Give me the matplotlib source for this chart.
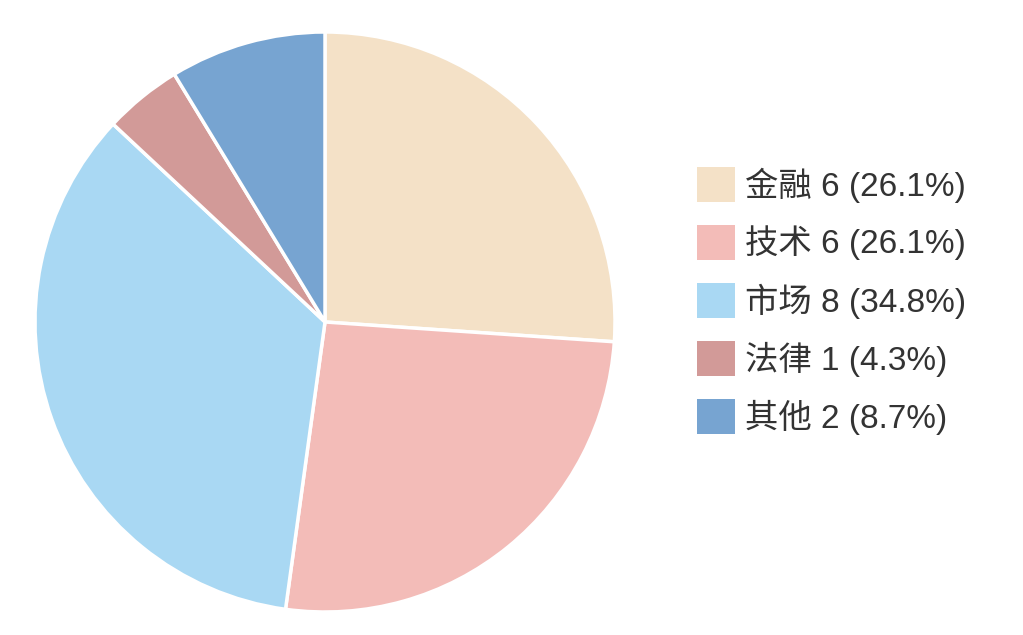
import matplotlib.pyplot as plt
from matplotlib.patches import Rectangle

plt.rcParams['font.family'] = ['Liberation Sans', 'Noto Sans CJK SC', 'DejaVu Sans']

labels = ['金融', '技术', '市场', '法律', '其他']
counts = [6, 6, 8, 1, 2]
colors = ['#F4E1C7', '#F3BCB8', '#A9D8F3', '#D29A98', '#77A4D1']

total = sum(counts)
legend_labels = ['%s %d (%.1f%%)' % (l, c, c * 100.0 / total) for l, c in zip(labels, counts)]

W, H = 1023, 635
fig = plt.figure(figsize=(W / 100, H / 100), dpi=100)
ax = fig.add_axes([35 / W, 23 / H, 580 / W, 580 / H])
ax.pie(counts, colors=colors, startangle=90, counterclock=False,
       wedgeprops=dict(edgecolor='white', linewidth=2.5))
ax.set_xlim(-1.0, 1.0)
ax.set_ylim(-1.0, 1.0)
ax.set_aspect('equal')
ax.axis('off')

# legend drawn by hand, in pixel positions
for i, (c, t) in enumerate(zip(colors, legend_labels)):
    top = 167 + 58 * i
    fig.patches.append(Rectangle((697 / W, 1 - (top + 35) / H), 38 / W, 35 / H,
                                 transform=fig.transFigure, facecolor=c, edgecolor='none'))
    fig.text(745 / W, 1 - (top + 18) / H, t, fontsize=24, color='#333333',
             va='center', ha='left')

fig.savefig('out.png', dpi=100, facecolor='white')
